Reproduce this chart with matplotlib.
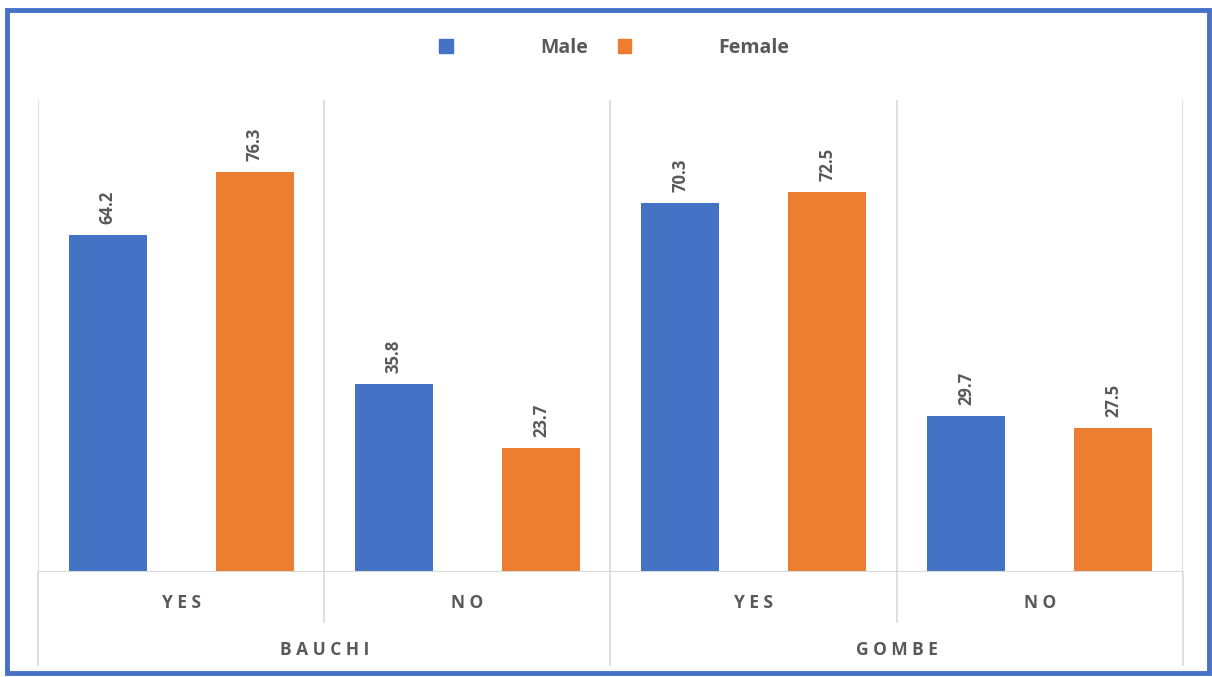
import matplotlib
matplotlib.use("Agg")
import matplotlib.pyplot as plt
from matplotlib.patches import Patch, Rectangle
import numpy as np

plt.rcParams['font.family'] = ['Open Sans', 'DejaVu Sans']

# data
states = ['BAUCHI', 'GOMBE']
answers = ['YES', 'NO', 'YES', 'NO']
male = [64.2, 35.8, 70.3, 29.7]
female = [76.3, 23.7, 72.5, 27.5]

blue = '#4472C4'
orange = '#ED7D31'
grey = '#595959'
grid = '#D9D9D9'

fig = plt.figure(figsize=(12.12, 6.77), dpi=100)
ax = fig.add_axes([0.0314, 0.155, 0.9446, 0.697])

x = np.arange(len(answers))
w = 0.273
off = 0.257
b1 = ax.bar(x - off, male, w, color=blue, zorder=3)
b2 = ax.bar(x + off, female, w, color=orange, zorder=3)

for bars in (b1, b2):
    for rect in bars:
        h = rect.get_height()
        ax.annotate(f'{h:.1f}', (rect.get_x() + rect.get_width() / 2, h),
                    xytext=(0, 8), textcoords='offset points',
                    rotation=90, ha='center', va='bottom',
                    fontsize=12, fontweight='bold', color=grey)

ax.set_xlim(-0.5, len(answers) - 0.5)
ax.set_ylim(0, 90)
for s in ax.spines.values():
    s.set_visible(False)
ax.set_xticks([])
ax.set_yticks([])

# vertical separators
for i, xv in enumerate(np.arange(-0.5, len(answers), 1.0)):
    ax.axvline(xv, color=grid, lw=1.2, zorder=1)
    low = -0.197 if i % 2 == 0 else -0.105
    ax.plot([xv, xv], [0, low], color=grid, lw=1.2,
            transform=ax.get_xaxis_transform(), clip_on=False)
ax.axhline(0, color=grid, lw=1.5, zorder=4)

# category labels
for xi, a in zip(x, answers):
    ax.text(xi, -0.066, ' '.join(a), transform=ax.get_xaxis_transform(),
            ha='center', va='center', fontsize=12.5, fontweight='bold', color=grey)
for i, st in enumerate(states):
    ax.text(2 * i + 0.5, -0.165, ' '.join(st), transform=ax.get_xaxis_transform(),
            ha='center', va='center', fontsize=12.5, fontweight='bold', color=grey)

# legend
handles = [Patch(color=blue, label='Male'), Patch(color=orange, label='Female')]
leg = fig.legend(handles=handles, loc='center', bbox_to_anchor=(0.507, 0.929),
                 ncol=2, frameon=False, fontsize=14, handlelength=0.7,
                 handleheight=0.7, handletextpad=4.5, columnspacing=1.5)
for t in leg.get_texts():
    t.set_color(grey)
    t.set_fontweight('bold')

# outer border
fig.patches.append(Rectangle((0.0058, 0.006), 0.9915, 0.979, transform=fig.transFigure,
                             fill=False, edgecolor=blue, lw=3.5))

fig.savefig('out.png', dpi=100)
